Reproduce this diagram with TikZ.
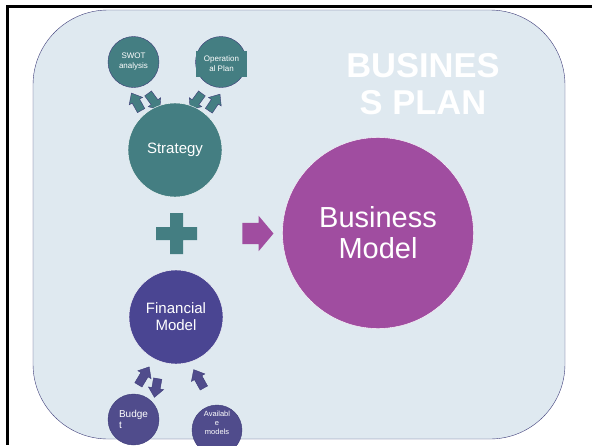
\documentclass[tikz,border=0pt]{standalone}
\usepackage{fontspec}
\setmainfont{Liberation Sans}
\usetikzlibrary{positioning,shapes.arrows}

\definecolor{tealc}{HTML}{447E82}
\definecolor{edgec}{HTML}{3D3C78}
\definecolor{finc}{HTML}{4A4592}
\definecolor{bmc}{HTML}{A04DA0}
\definecolor{smallc}{HTML}{504C8C}
\definecolor{bgc}{HTML}{DFE9F0}

\begin{document}
\begin{tikzpicture}[x=1pt,y=-1pt,
	bigcirc/.style={draw=white, circle, inner sep=0pt, text=white, align=center},
	smallcirc/.style={draw=edgec, circle, inner sep=0pt, text=white, align=center, minimum size=51pt},
	blockarr/.style={single arrow, draw=edgec, inner xsep=0pt, inner ysep=4pt, minimum height=20pt,
		single arrow head extend=3.5pt, single arrow tip angle=80},
	smallfont/.style={font=\fontsize{8}{10}\selectfont}]
				\useasboundingbox (0,0) rectangle (592,445);
				% frame
				\draw[line width=2.5pt] (6,6.5) -- (592,6.5);
				\draw[line width=2.5pt] (7.5,5) -- (7.5,445);
				\draw[draw=edgec, fill=bgc, rounded corners=75pt] (33,10) rectangle (565,439);
				% title
				\node[text=white, font=\bfseries\fontsize{34.5}{37.5}\selectfont, align=center] (title) at (423,84) {BUSINES\\S PLAN};
				% arrows to the small circles
				\node[blockarr, fill=tealc, rotate=119] (swotout) at (137.5,104) {};
				\node[blockarr, fill=tealc, rotate=-54] (swotin) at (152.5,99.5) {};
				\node[blockarr, fill=tealc, rotate=234] (opin) at (197.5,99.5) {};
				\node[blockarr, fill=tealc, rotate=56] (opout) at (213,104.5) {};
				\node[blockarr, fill=smallc, minimum height=21pt, rotate=59] (budout) at (142.5,378) {};
				\node[blockarr, fill=smallc, minimum height=19pt, rotate=260] (budin) at (156.5,385.5) {};
				\node[blockarr, fill=smallc, minimum height=21pt, rotate=119] (availout) at (200,381) {};
				% circles
				\node[smallcirc, fill=tealc, smallfont] (swot) at (133.5,62) {SWOT\\analysis};
				\node[smallcirc, fill=tealc] (op) at (221,62) {};
				\node[fill=tealc, text=white, inner sep=0pt, minimum width=51pt, minimum height=26pt, align=center, smallfont] (optext) at (221.5,64) {Operation\\al Plan};
				\node[bigcirc, fill=tealc, minimum size=94pt, font=\fontsize{15}{17}\selectfont] (strategy) at (175,150) {Strategy};
				\node[bigcirc, fill=finc, minimum size=94pt, font=\fontsize{15}{17}\selectfont] (financial) at (176,317) {Financial\\Model};
				\node[bigcirc, fill=bmc, minimum size=191pt, font=\fontsize{29}{31}\selectfont] (bm) at (378,233) {Business\\Model};
				\node[smallcirc, fill=smallc, align=left, font=\fontsize{10}{11}\selectfont] (budget) at (133.5,419.5) {Budge\\t};
				\node[smallcirc, fill=smallc, minimum size=50pt] (avail) at (217,430) {};
				\node[text=white, inner sep=0pt, align=center, font=\fontsize{7.5}{9}\selectfont] (availtext) at (217,423) {Availabl\\e\\models};
				% plus and arrow
				\fill[tealc] (170,213) -- (183,213) -- (183,227) -- (197,227) -- (197,240) -- (183,240)
					-- (183,254) -- (170,254) -- (170,240) -- (156,240) -- (156,227) -- (170,227) -- cycle;
				\node[single arrow, fill=bmc, inner xsep=0pt, inner ysep=10.5pt, minimum height=31pt,
					single arrow head extend=7pt, single arrow tip angle=100] (toBM) at (253.5,233.5) {};
				\end{tikzpicture}
\end{document}
